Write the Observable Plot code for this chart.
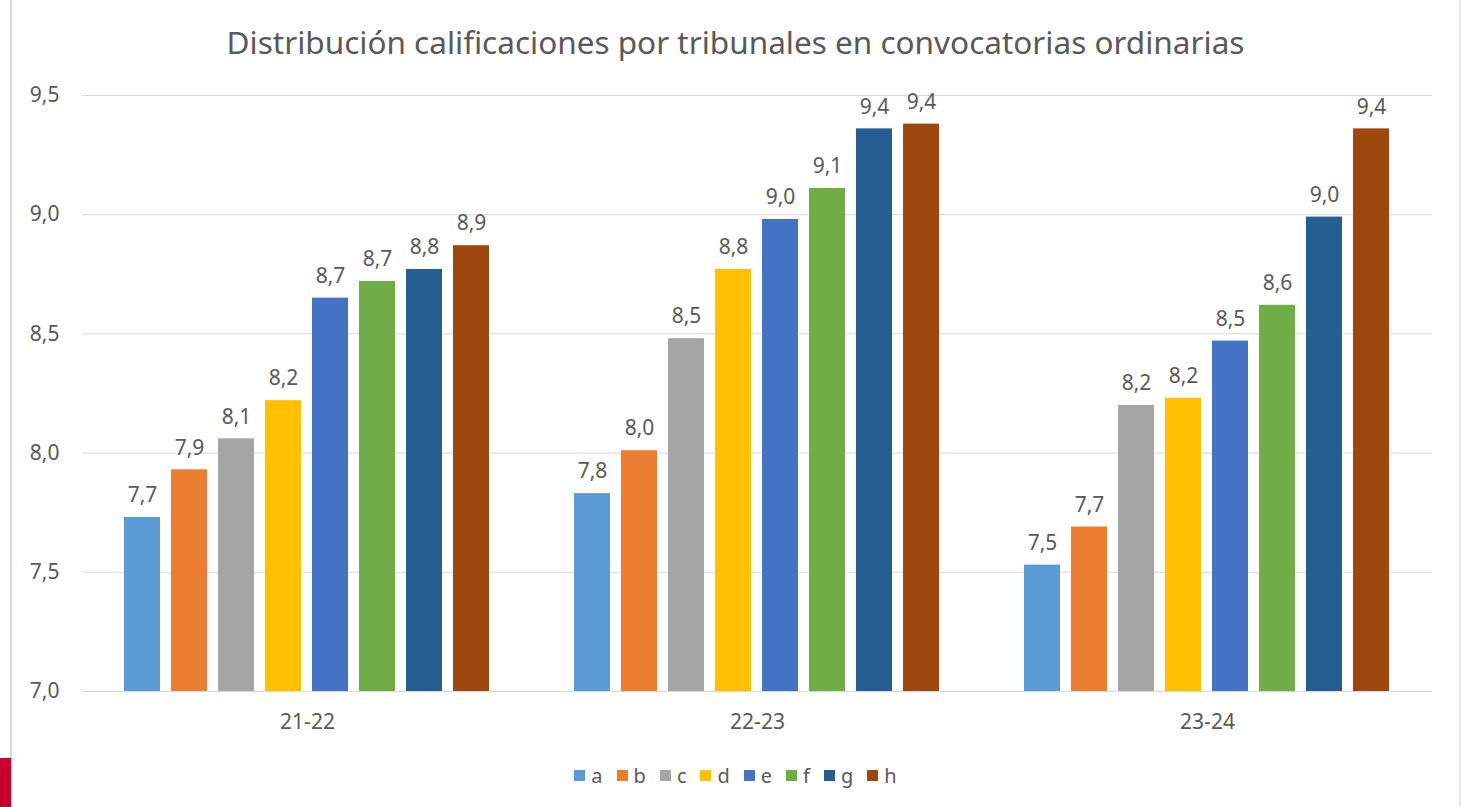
<!DOCTYPE html>
<html>
<head>
<meta charset="utf-8">
<script src="https://cdn.jsdelivr.net/npm/d3@7"></script>
<script src="https://cdn.jsdelivr.net/npm/@observablehq/plot@0.6"></script>
<style>
  html, body { margin: 0; padding: 0; background: #fff; width: 1461px; height: 807px; overflow: hidden; font-family: "Noto Sans", sans-serif; }
  #wrap { position: relative; width: 1461px; height: 807px; }
  #title { position: absolute; left: 11px; width: 1449px; top: 24px; height: 36px; line-height: 36px; text-align: center; font-size: 31.5px; color: #595959; }
  #chart { position: absolute; left: 0; top: 70px; }
  #legend { position: absolute; left: 11px; width: 1449px; top: 761px; height: 28px; display: flex; justify-content: center; align-items: center; font-size: 20px; color: #595959; }
  .item { display: flex; align-items: center; margin: 0 7px; }
  .sw { width: 11px; height: 11px; margin-right: 6px; }
  #lborder { position: absolute; left: 10px; top: 0; width: 2px; height: 807px; background: #d9d9d9; }
  #rborder { position: absolute; left: 1459px; top: 0; width: 2px; height: 807px; background: #e6e6e6; }
  #red { position: absolute; left: 0; top: 758px; width: 11px; height: 49px; background: #c8002e; }
</style>
</head>
<body>
<div id="wrap">
  <div id="lborder"></div>
  <div id="rborder"></div>
  <div id="red"></div>
  <div id="title">Distribución calificaciones por tribunales en convocatorias ordinarias</div>
  <div id="chart"></div>
  <div id="legend"></div>
</div>
<script>
const groups = ["21-22", "22-23", "23-24"];
const series = ["a", "b", "c", "d", "e", "f", "g", "h"];
const colors = ["#5B9BD5", "#ED7D31", "#A5A5A5", "#FFC000", "#4472C4", "#70AD47", "#255E91", "#9E480E"];
const values2122 = [7.73, 7.93, 8.06, 8.22, 8.65, 8.72, 8.77, 8.87];
const values2223 = [7.83, 8.01, 8.48, 8.77, 8.98, 9.11, 9.36, 9.38];
const values2324 = [7.53, 7.69, 8.20, 8.23, 8.47, 8.62, 8.99, 9.36];
const yTicks = [7.0, 7.5, 8.0, 8.5, 9.0, 9.5];
const yMin = 7.0;

const allValues = [values2122, values2223, values2324];
const data = groups.flatMap((g, gi) => series.map((s, si) => ({group: g, series: s, value: allValues[gi][si]})));
const fmt = v => v.toFixed(1).replace(".", ",");
const txt = "#595959";

const chart = Plot.plot({
  width: 1461,
  height: 671,
  marginLeft: 81,
  marginRight: 28,
  marginTop: 25,
  marginBottom: 50,
  style: {fontFamily: "Noto Sans, sans-serif", background: "transparent"},
  fx: {domain: groups, padding: 0, label: null},
  x: {domain: series, paddingInner: 0.225, paddingOuter: 0.86, axis: null},
  y: {domain: [yMin, 9.5], label: null},
  color: {domain: series, range: colors},
  marks: [
    Plot.gridY(yTicks, {stroke: "#d9d9d9", strokeOpacity: 1, strokeWidth: 1}),
    Plot.axisY(yTicks, {tickSize: 0, tickPadding: 23, tickFormat: fmt, fontSize: 21, fill: txt, label: null}),
    Plot.axisFx({anchor: "bottom", tickSize: 0, tickPadding: 23, fontSize: 21, fill: txt, label: null}),
    Plot.axisX({ticks: [], label: null}),
    Plot.barY(data, {fx: "group", x: "series", y1: d => yMin, y2: "value", fill: "series"}),
    Plot.text(data, {fx: "group", x: "series", y: "value", text: d => fmt(d.value), dy: -22, fontSize: 21, fill: txt})
  ]
});
document.getElementById("chart").appendChild(chart);

const legend = document.getElementById("legend");
series.forEach((s, i) => {
  const item = document.createElement("div");
  item.className = "item";
  const sw = document.createElement("div");
  sw.className = "sw";
  sw.style.background = colors[i];
  const lab = document.createElement("span");
  lab.textContent = s;
  item.appendChild(sw);
  item.appendChild(lab);
  legend.appendChild(item);
});
</script>
</body>
</html>
